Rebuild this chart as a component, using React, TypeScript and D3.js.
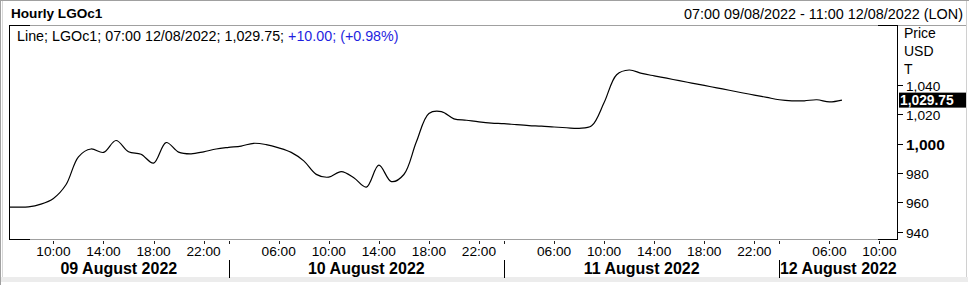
import React from 'react';
import * as d3 from 'd3';

// ---- data ----
const dayLabels = ['09 August 2022', '10 August 2022', '11 August 2022', '12 August 2022'];
const hourTickHours = [6, 10, 14, 18, 22];
const hourTickLabels = ['06:00', '10:00', '14:00', '18:00', '22:00'];
const priceTicks = [940, 960, 980, 1000, 1020, 1040];

// hourly closes, trading session 02:00-23:00 each day
const aug09Start = 6;
const aug09 = [956.7, 956.7, 956.9, 958.8, 962.7, 972.0, 991.1, 996.4, 994.1, 1002.2, 994.5, 992.8, 986.8, 1000.8, 994.3, 993.1, 994.5, 996.4];
const aug10Start = 2;
const aug10 = [997.5, 998.4, 1000.3, 999.4, 997.2, 994.1, 988.3, 979.1, 977.2, 981.0, 976.8, 970.4, 985.4, 974.2, 979.0, 1001.3, 1020.6, 1021.9, 1017.0, 1016.0, 1014.9, 1014.1];
const aug11Start = 2;
const aug11 = [1013.7, 1013.0, 1012.4, 1012.0, 1011.4, 1010.9, 1010.5, 1012.2, 1028.1, 1047.1, 1050.3, 1048.0, 1046.3, 1044.7, 1043.0, 1041.4, 1039.8, 1038.1, 1036.5, 1034.8, 1033.2, 1031.6];
const aug12Start = 2;
const aug12 = [1030.0, 1029.3, 1029.3, 1030.0, 1028.5, 1029.75];

const lastValue = 1029.75;
const titleText = 'Hourly LGOc1';
const rangeText = '07:00 09/08/2022 - 11:00 12/08/2022 (LON)';
const infoBlack = 'Line; LGOc1; 07:00 12/08/2022; 1,029.75; ';
const infoBlue = '+10.00; (+0.98%)';
const axisTitle = ['Price', 'USD', 'T'];

const SESSION_START = 2;
const SLOTS_PER_DAY = 22;
const slot = (day: number, hour: number) => day * SLOTS_PER_DAY + hour - SESSION_START;

const series: { s: number; v: number }[] = [];
[[aug09Start, aug09], [aug10Start, aug10], [aug11Start, aug11], [aug12Start, aug12]].forEach(([start, vals]: any, d) => {
  (vals as number[]).forEach((v, i) => series.push({ s: slot(d, start + i), v }));
});

const W = 969;
const H = 285;
const L = 9;
const R = 897;
const T = 25;
const B = 239;
const FONT = '"Liberation Sans", Arial, sans-serif';

export default function App() {
  const x = d3.scaleLinear().domain([4.45, 75.4]).range([L, R]);
  const y = d3.scaleLinear().domain([935, 1081]).range([B, T]);
  const line = d3
    .line<{ s: number; v: number }>()
    .x((d) => x(d.s))
    .y((d) => y(d.v))
    .curve(d3.curveCatmullRom.alpha(0.5));

  const hourTicks: { x: number; label: string }[] = [];
  dayLabels.forEach((_, d) => {
    hourTickHours.forEach((h, i) => {
      const px = x(slot(d, h));
      if (px > L + 2 && px < R - 2) hourTicks.push({ x: px, label: hourTickLabels[i] });
    });
  });
  const bounds = [L, ...[1, 2, 3].map((d) => x(slot(d, SESSION_START))), R];
  const fmt = d3.format(',');

  return (
    <svg width={W} height={H} style={{ position: 'absolute', left: 0, top: 0, background: '#fff' }} fontFamily={FONT}>
      <defs>
        <clipPath id="plot">
          <rect x={L} y={T} width={R - L} height={B - T} />
        </clipPath>
      </defs>
      <rect x={0} y={0} width={W} height={H} fill="#fff" />
      {/* outer frame */}
      <line x1={0} y1={0.5} x2={W} y2={0.5} stroke="#a0a0a0" />
      <line x1={0.5} y1={0} x2={0.5} y2={H} stroke="#a0a0a0" />
      <line x1={2.5} y1={1} x2={2.5} y2={277} stroke="#d8d8d8" />
      <line x1={W - 2.5} y1={1} x2={W - 2.5} y2={277} stroke="#d0d0d0" />
      <rect x={1} y={277} width={W - 2} height={5} fill="#ececec" />

      {/* header */}
      <text x={11} y={18} fontSize={13.6} fontWeight="bold" fill="#000">{titleText}</text>
      <text x={963} y={19} fontSize={14.4} textAnchor="end" fill="#000">{rangeText}</text>

      {/* plot frame */}
      <line x1={L} y1={T + 0.5} x2={W - 3} y2={T + 0.5} stroke="#a0a0a0" />
      <line x1={L} y1={B + 0.5} x2={R} y2={B + 0.5} stroke="#a0a0a0" />
      <line x1={L} y1={T + 0.5} x2={L + 21} y2={T + 0.5} stroke="#000" />
      <line x1={L} y1={B + 0.5} x2={L + 21} y2={B + 0.5} stroke="#000" />
      <line x1={R - 19} y1={T + 0.5} x2={R + 1} y2={T + 0.5} stroke="#000" />
      <line x1={R - 19} y1={B + 0.5} x2={R + 1} y2={B + 0.5} stroke="#000" />
      <line x1={L + 0.5} y1={T} x2={L + 0.5} y2={B + 1} stroke="#000" />
      <line x1={R + 0.5} y1={T} x2={R + 0.5} y2={B + 1} stroke="#000" />

      {/* info line */}
      <text x={17} y={41} fontSize={14.3} fill="#000">
        {infoBlack}
        <tspan fill="#1f1fe0">{infoBlue}</tspan>
      </text>

      {/* price line */}
      <path d={line(series) || ''} fill="none" stroke="#000" strokeWidth={1.2} clipPath="url(#plot)" />

      {/* y axis */}
      {axisTitle.map((t, i) => (
        <text key={t} x={904} y={38 + i * 18} fontSize={14} fill="#000">{t}</text>
      ))}
      {priceTicks.map((v) => (
        <g key={v}>
          <line x1={R + 1} x2={R + 6} y1={Math.round(y(v)) + 0.5} y2={Math.round(y(v)) + 0.5} stroke="#000" />
          <text
            x={906}
            y={y(v) + 6}
            fontSize={v === 1000 ? 15.5 : 13.7}
            fontWeight={v === 1000 ? 'bold' : 'normal'}
            fill="#000"
          >
            {fmt(v)}
          </text>
        </g>
      ))}
      <rect x={899} y={y(lastValue) - 7.5} width={W - 3 - 899} height={15} fill="#000" />
      <text x={900} y={y(lastValue) + 5} fontSize={13.8} fontWeight="bold" fill="#fff">
        {d3.format(',.2f')(lastValue)}
      </text>

      {/* x axis */}
      {hourTicks.map((t, i) => (
        <g key={i}>
          <line x1={Math.round(t.x) + 0.5} x2={Math.round(t.x) + 0.5} y1={B + 2} y2={B + 5} stroke="#222" />
          <text x={t.x} y={256} fontSize={13.7} textAnchor="middle" fill="#000">{t.label}</text>
        </g>
      ))}
      {bounds.slice(1, -1).map((bx, i) => (
        <g key={'b' + i}>
          <line x1={Math.round(bx) + 0.5} x2={Math.round(bx) + 0.5} y1={B + 2} y2={B + 5} stroke="#222" />
          <line x1={Math.round(bx) + 0.5} x2={Math.round(bx) + 0.5} y1={260} y2={278} stroke="#000" />
        </g>
      ))}
      {dayLabels.map((lab, i) => {
        const a = bounds[i];
        const b = bounds[i + 1];
        const wEst = 116;
        let cx = (a + b) / 2;
        if (cx - wEst / 2 < a + 1) cx = a + 1 + wEst / 2;
        if (cx + wEst / 2 > b) cx = Math.max(a + 1 + wEst / 2, b - wEst / 2);
        return (
          <text key={lab} x={cx} y={274} fontSize={16} fontWeight="bold" textAnchor="middle" fill="#000">
            {lab}
          </text>
        );
      })}
    </svg>
  );
}
